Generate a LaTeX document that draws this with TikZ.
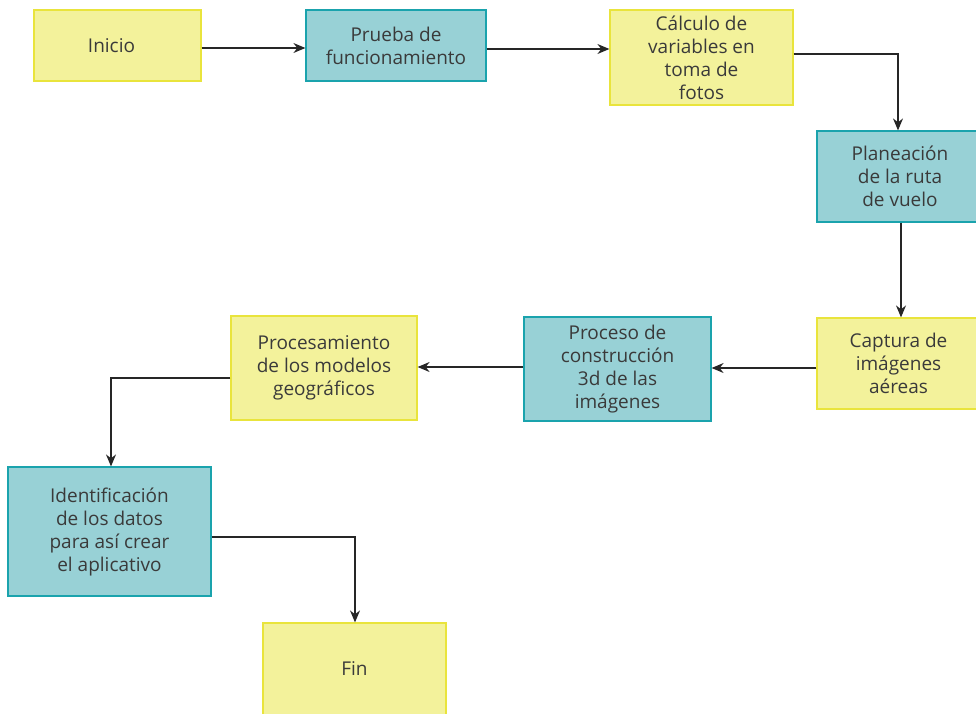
\documentclass[tikz,border=0pt]{standalone}
\usepackage{fontspec}
\setmainfont{Open Sans}
\usetikzlibrary{arrows.meta}
\definecolor{yfill}{HTML}{F3F29B}
\definecolor{ydraw}{HTML}{E9E43C}
\definecolor{tfill}{HTML}{98D1D6}
\definecolor{tdraw}{HTML}{1AA3AD}
\definecolor{txt}{HTML}{3A3A3A}
\tikzset{
  box/.style={rectangle, draw, line width=1.2pt, align=center, text=txt, inner sep=0pt,
    font=\fontsize{19}{23}\selectfont},
  ybox/.style={box, fill=yfill, draw=ydraw},
  tbox/.style={box, fill=tfill, draw=tdraw},
  conn/.style={draw=black!85, line width=1.1pt, -{Stealth[length=12pt,width=10pt]}}
}
\begin{document}
\begin{tikzpicture}[x=1pt,y=-1pt]
\useasboundingbox (0,0) rectangle (976,713);
\clip (0,0) rectangle (976,713);
\node[ybox, minimum width=167pt, minimum height=71pt] (inicio) at (117.5,45.5) {Inicio\hspace*{12pt}};
\node[tbox, minimum width=180pt, minimum height=71pt] (prueba) at (396,45.5) {Prueba de\\funcionamiento};
\node[ybox, minimum width=183pt, minimum height=95pt] (calculo) at (701.5,57.5) {Cálculo de\\variables en\\toma de\\fotos};
\node[tbox, minimum width=166pt, minimum height=91pt] (plan) at (900,176.5) {Planeación\\de la ruta\\de vuelo};
\node[ybox, minimum width=163pt, minimum height=91pt] (captura) at (898.5,363.5) {Captura de\\imágenes\\aéreas};
\node[tbox, minimum width=187pt, minimum height=104pt] (proceso) at (617.5,369) {Proceso de\\construcción\\3d de las\\imágenes};
\node[ybox, minimum width=186pt, minimum height=104pt] (procesa) at (324,368) {Procesamiento\\de los modelos\\geográficos};
\node[tbox, minimum width=203pt, minimum height=129pt] (ident) at (109.5,531.5) {Identificación\\de los datos\\para así crear\\el aplicativo};
\node[ybox, minimum width=183pt, minimum height=92pt] (fin) at (354.5,669) {Fin};
\coordinate (c1) at (898,54);
\coordinate (c2) at (111,378);
\coordinate (c3) at (355,537);
\draw[conn] (inicio.east |- 0,48) -- (prueba.west |- 0,48);
\draw[conn] (prueba.east |- 0,49) -- (calculo.west |- 0,49);
\draw[conn] (calculo.east |- c1) -- (c1) -- (c1 |- plan.north);
\draw[conn] (plan.south -| 901,0) -- (captura.north -| 901,0);
\draw[conn] (captura.west |- 0,368) -- (proceso.east |- 0,368);
\draw[conn] (proceso.west |- 0,367) -- (procesa.east |- 0,367);
\draw[conn] (procesa.west |- c2) -- (c2) -- (c2 |- ident.north);
\draw[conn] (ident.east |- c3) -- (c3) -- (c3 |- fin.north);
\end{tikzpicture}
\end{document}
